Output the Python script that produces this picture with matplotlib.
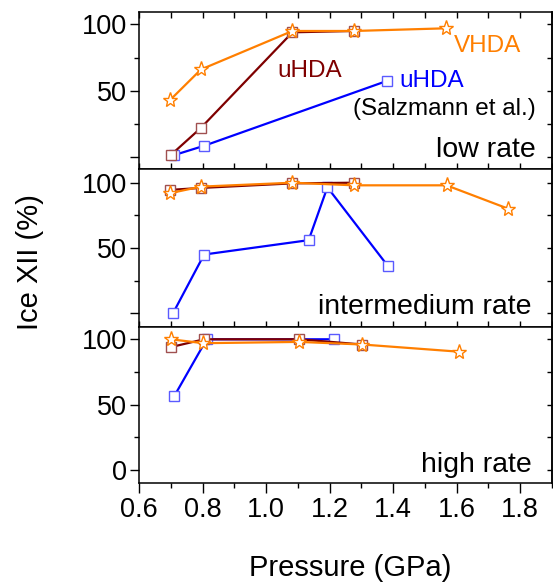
import numpy as np
import matplotlib
matplotlib.use('Agg')
import matplotlib.pyplot as plt
from matplotlib.ticker import MultipleLocator

plt.rcParams['font.family'] = ['Liberation Sans', 'DejaVu Sans']

# data (pressure in GPa, ice XII fraction in %)
# low rate
low_vhda_p = [0.698, 0.795, 1.083, 1.277, 1.565]
low_vhda_y = [43, 66, 95, 95, 97]
low_uhda_p = [0.700, 0.795, 1.083, 1.277]
low_uhda_y = [1.5, 22, 94, 95]
low_salz_p = [0.711, 0.805, 1.382]
low_salz_y = [1.5, 8.5, 57.5]

# intermedium rate
mid_vhda_p = [0.698, 0.795, 1.083, 1.277, 1.568, 1.763]
mid_vhda_y = [92, 97, 100, 98, 98, 80]
mid_uhda_p = [0.698, 0.795, 1.083, 1.277]
mid_uhda_y = [94.5, 96, 99.5, 100]
mid_salz_p = [0.708, 0.805, 1.134, 1.193, 1.384]
mid_salz_y = [0.5, 45, 56, 96.5, 36]

# high rate
high_vhda_p = [0.700, 0.802, 1.104, 1.303, 1.607]
high_vhda_y = [100, 97, 98, 96, 90.5]
high_uhda_p = [0.700, 0.805, 1.104, 1.303]
high_uhda_y = [94, 100, 100, 96]
high_salz_p = [0.711, 0.813, 1.214]
high_salz_y = [56.5, 100, 100]

orange = '#ff7f00'
darkred = '#7f0000'
blue = '#0000ff'

fig = plt.figure(figsize=(5.53, 5.85), dpi=100)
left, right = 139 / 553, 552 / 553
edges = [12, 169, 327, 483]
axes = []
for i in range(3):
    top = 1 - edges[i] / 585
    bot = 1 - edges[i + 1] / 585
    axes.append(fig.add_axes([left, bot, right - left, top - bot]))

panels = [
    (low_salz_p, low_salz_y, low_uhda_p, low_uhda_y, low_vhda_p, low_vhda_y),
    (mid_salz_p, mid_salz_y, mid_uhda_p, mid_uhda_y, mid_vhda_p, mid_vhda_y),
    (high_salz_p, high_salz_y, high_uhda_p, high_uhda_y, high_vhda_p, high_vhda_y),
]
ylims = [(-9, 109.3), (-10.5, 110.5), (-10, 109.4)]

for i, ax in enumerate(axes):
    sp, sy, up, uy, vp, vy = panels[i]
    ax.plot(sp, sy, '-', color=blue, lw=1.6, marker='s', ms=7.2,
            mfc='white', mec='#5a5aff', mew=1.0)
    ax.plot(up, uy, '-', color=darkred, lw=1.6, marker='s', ms=7.2,
            mfc='white', mec='#a05050', mew=1.0)
    ax.plot(vp, vy, '-', color=orange, lw=1.6, marker='*', ms=11,
            mfc='white', mec=orange, mew=1.0)
    ax.set_xlim(0.6, 1.9)
    ax.set_ylim(*ylims[i])
    ax.xaxis.set_major_locator(MultipleLocator(0.2))
    ax.xaxis.set_minor_locator(MultipleLocator(0.1))
    ax.yaxis.set_major_locator(MultipleLocator(50))
    ax.yaxis.set_minor_locator(MultipleLocator(25))
    for s in ax.spines.values():
        s.set_linewidth(1.1)
    ax.tick_params(axis='y', which='major', direction='out', length=6.5,
                   width=1.0, labelsize=19.5, left=True, right=False)
    ax.tick_params(axis='y', which='minor', direction='out', length=3.5,
                   width=1.0, left=True, right=False)
    ax.tick_params(axis='y', which='major', pad=2)
    # right side ticks pointing inward
    ax2 = ax.secondary_yaxis('right')
    ax2.yaxis.set_major_locator(MultipleLocator(25))
    ax2.tick_params(direction='in', length=3.5, width=1.0, labelright=False)
    ax2.spines['right'].set_linewidth(1.1)
    if i < 2:
        ax.yaxis.set_major_formatter(
            plt.FuncFormatter(lambda v, pos: '' if v < 1 else '%d' % v))
        ax.tick_params(axis='x', which='both', direction='in', length=4,
                       width=1.0, labelbottom=False, top=(i == 0))
    else:
        ax.yaxis.set_major_formatter(plt.FuncFormatter(lambda v, pos: '%d' % v))
        ax.tick_params(axis='x', which='major', direction='out', length=7,
                       width=1.0, labelsize=19.5, pad=3)
        ax.tick_params(axis='x', which='minor', direction='out', length=3.5,
                       width=1.0)
        ax.xaxis.set_major_formatter(plt.FuncFormatter(lambda v, pos: '%.1f' % v))
    if i == 0:
        ax.tick_params(axis='x', which='both', top=True, direction='in', length=4)

axes[0].text(1.698, 79.3, 'VHDA', color=orange, fontsize=17.5, ha='center', va='baseline')
axes[0].text(1.138, 60.5, 'uHDA', color=darkred, fontsize=17.5, ha='center', va='baseline')
axes[0].text(1.52, 52.5, 'uHDA', color=blue, fontsize=17.5, ha='center', va='baseline')
axes[0].text(1.561, 31.6, '(Salzmann et al.)', color='black', fontsize=17.5,
             ha='center', va='baseline')
axes[0].text(1.848, 0.2, 'low rate', fontsize=20.5, ha='right', va='baseline')
axes[1].text(1.836, -0.8, 'intermedium rate', fontsize=20.5, ha='right', va='baseline')
axes[2].text(1.836, -1.3, 'high rate', fontsize=20.5, ha='right', va='baseline')

fig.text(350 / 553, 1 - 568 / 585, 'Pressure (GPa)', fontsize=21, ha='center', va='center')
fig.text(30 / 553, 1 - 262 / 585, 'Ice XII (%)', fontsize=21, ha='center', va='center',
         rotation=90)

fig.savefig('out.png', dpi=100)
